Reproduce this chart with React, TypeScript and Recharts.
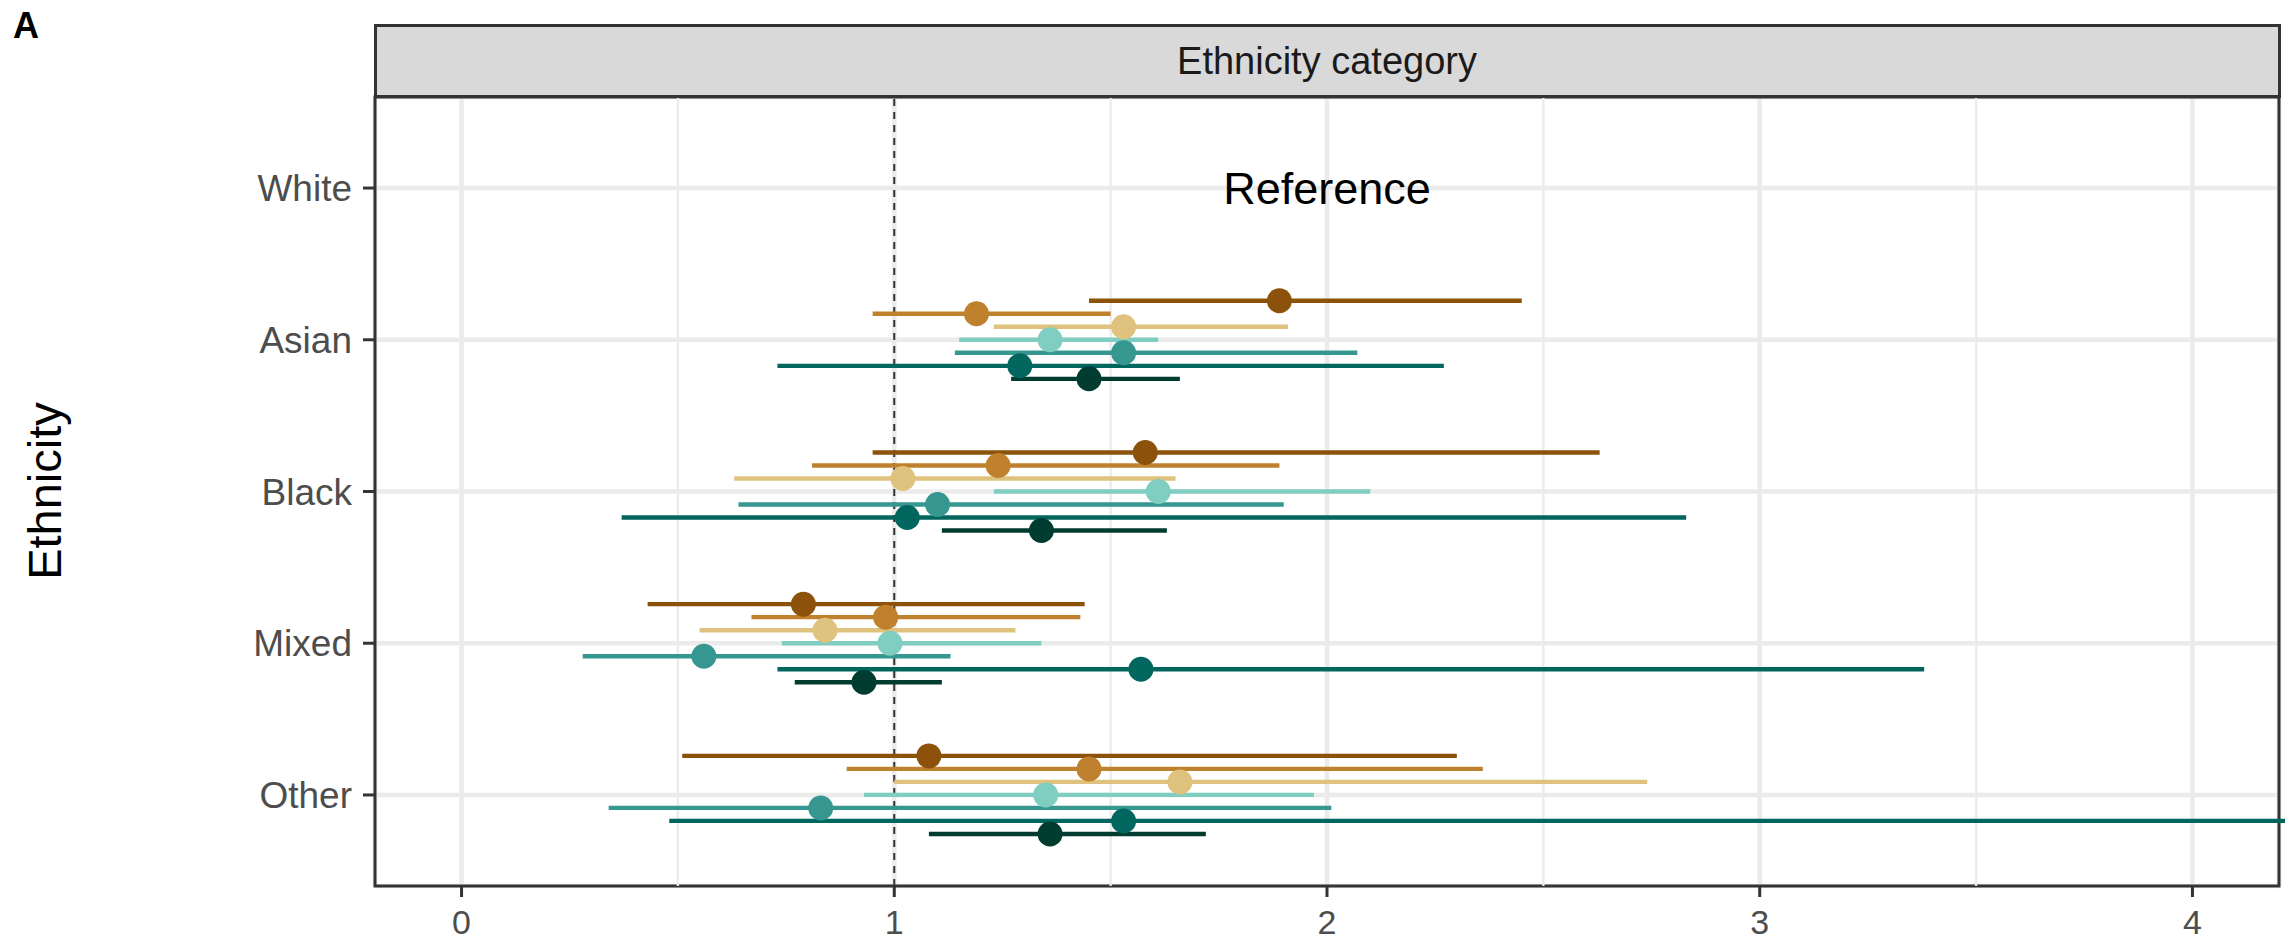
import {
  CartesianGrid,
  ErrorBar,
  Label,
  ReferenceArea,
  ReferenceDot,
  ReferenceLine,
  Scatter,
  ScatterChart,
  XAxis,
  YAxis,
} from 'recharts'

// rows of the panel, top to bottom; White is the reference group
const categories = ['White', 'Asian', 'Black', 'Mixed', 'Other']
const modelled = ['Asian', 'Black', 'Mixed', 'Other']
const referenceLabel = 'Reference'
const stripTitle = 'Ethnicity category'
const axisTitle = 'Ethnicity'

const xTicks = [0, 1, 2, 3, 4]
const xMinor = [0.5, 1.5, 2.5, 3.5]
const xDomain = [-0.2, 4.2]

// estimate + interval per series, in the order of `modelled`
const s1Est = [1.89, 1.58, 0.79, 1.08]
const s1Low = [1.45, 0.95, 0.43, 0.51]
const s1High = [2.45, 2.63, 1.44, 2.3]

const s2Est = [1.19, 1.24, 0.98, 1.45]
const s2Low = [0.95, 0.81, 0.67, 0.89]
const s2High = [1.5, 1.89, 1.43, 2.36]

const s3Est = [1.53, 1.02, 0.84, 1.66]
const s3Low = [1.23, 0.63, 0.55, 1.0]
const s3High = [1.91, 1.65, 1.28, 2.74]

const s4Est = [1.36, 1.61, 0.99, 1.35]
const s4Low = [1.15, 1.23, 0.74, 0.93]
const s4High = [1.61, 2.1, 1.34, 1.97]

const s5Est = [1.53, 1.1, 0.56, 0.83]
const s5Low = [1.14, 0.64, 0.28, 0.34]
const s5High = [2.07, 1.9, 1.13, 2.01]

const s6Est = [1.29, 1.03, 1.57, 1.53]
const s6Low = [0.73, 0.37, 0.73, 0.48]
const s6High = [2.27, 2.83, 3.38, 4.88]

const s7Est = [1.45, 1.34, 0.93, 1.36]
const s7Low = [1.27, 1.11, 0.77, 1.08]
const s7High = [1.66, 1.63, 1.11, 1.72]

const seriesColors = ['#8C510A', '#BF812D', '#DFC27D', '#80CDC1', '#35978F', '#01665E', '#003C30']

const series = [
  { key: 's1', est: s1Est, low: s1Low, high: s1High },
  { key: 's2', est: s2Est, low: s2Low, high: s2High },
  { key: 's3', est: s3Est, low: s3Low, high: s3High },
  { key: 's4', est: s4Est, low: s4Low, high: s4High },
  { key: 's5', est: s5Est, low: s5Low, high: s5High },
  { key: 's6', est: s6Est, low: s6Low, high: s6High },
  { key: 's7', est: s7Est, low: s7Low, high: s7High },
]

const DODGE = 0.6
const FONT = '"Liberation Sans", Arial, sans-serif'

function rowsFor(s: (typeof series)[number], i: number) {
  const n = series.length
  return modelled.map((cat, j) => ({
    cat,
    x: s.est[j],
    y: categories.indexOf(cat) + 1 + ((i - (n - 1) / 2) * DODGE) / n,
    err: [s.est[j] - s.low[j], s.high[j] - s.est[j]],
  }))
}

export default function App() {
  return (
    <div
      style={{
        position: 'absolute',
        left: 0,
        top: 0,
        width: 2285,
        height: 943,
        background: '#fff',
        fontFamily: FONT,
      }}
    >
      <ScatterChart
        width={2285}
        height={943}
        margin={{ top: 97, right: 6, bottom: 0, left: 0 }}
      >
        <CartesianGrid stroke="#EBEBEB" strokeWidth={4.6} />
        {xMinor.map((v) => (
          <ReferenceLine key={v} x={v} stroke="#EBEBEB" strokeWidth={2.3} />
        ))}
        <XAxis
          type="number"
          dataKey="x"
          domain={xDomain}
          allowDataOverflow
          ticks={xTicks}
          interval={0}
          height={57}
          axisLine={false}
          tickSize={11}
          tickMargin={13}
          tickLine={{ stroke: '#333333', strokeWidth: 3 }}
          tick={{ fill: '#4D4D4D', fontSize: 34 }}
        />
        <YAxis
          type="number"
          dataKey="y"
          domain={[0.4, 5.6]}
          reversed
          allowDataOverflow
          ticks={[1, 2, 3, 4, 5]}
          interval={0}
          width={375}
          axisLine={false}
          tickSize={12}
          tickMargin={11}
          tickLine={{ stroke: '#333333', strokeWidth: 3 }}
          tick={{ fill: '#4D4D4D', fontSize: 37 }}
          tickFormatter={(v: number) => categories[v - 1]}
        />
        <ReferenceLine x={1} stroke="#333333" strokeWidth={2} strokeDasharray="7 6" />
        {series.map((s, i) => (
          <Scatter
            key={s.key}
            name={s.key}
            data={rowsFor(s, i)}
            isAnimationActive={false}
            shape={(p: any) => (
              <circle cx={p.cx} cy={p.cy} r={12.5} fill={seriesColors[i]} />
            )}
          >
            <ErrorBar
              dataKey="err"
              direction="x"
              width={0}
              stroke={seriesColors[i]}
              strokeWidth={4.3}
              isAnimationActive={false}
            />
          </Scatter>
        ))}
        <ReferenceDot x={2} y={1} r={0} fill="none" stroke="none">
          <Label value={referenceLabel} position="center" fontSize={45} fill="#000000" />
        </ReferenceDot>
        <ReferenceArea
          x1={xDomain[0]}
          x2={xDomain[1]}
          y1={0.4}
          y2={5.6}
          fill="none"
          fillOpacity={0}
          stroke="#333333"
          strokeWidth={3}
          strokeOpacity={1}
        />
      </ScatterChart>

      <div
        style={{
          position: 'absolute',
          left: 373.5,
          top: 24,
          width: 1907,
          height: 74,
          boxSizing: 'border-box',
          border: '3px solid #333333',
          background: '#D9D9D9',
          color: '#1A1A1A',
          fontSize: 38,
          lineHeight: '68px',
          textAlign: 'center',
        }}
      >
        {stripTitle}
      </div>

      <div
        style={{
          position: 'absolute',
          left: 13,
          top: 8,
          fontSize: 36,
          lineHeight: 1,
          fontWeight: 700,
          color: '#000',
        }}
      >
        A
      </div>

      <div
        style={{
          position: 'absolute',
          left: 43.5,
          top: 491,
          fontSize: 47,
          lineHeight: 1,
          color: '#000',
          whiteSpace: 'nowrap',
          transform: 'translate(-50%, -50%) rotate(-90deg)',
        }}
      >
        {axisTitle}
      </div>
    </div>
  )
}
